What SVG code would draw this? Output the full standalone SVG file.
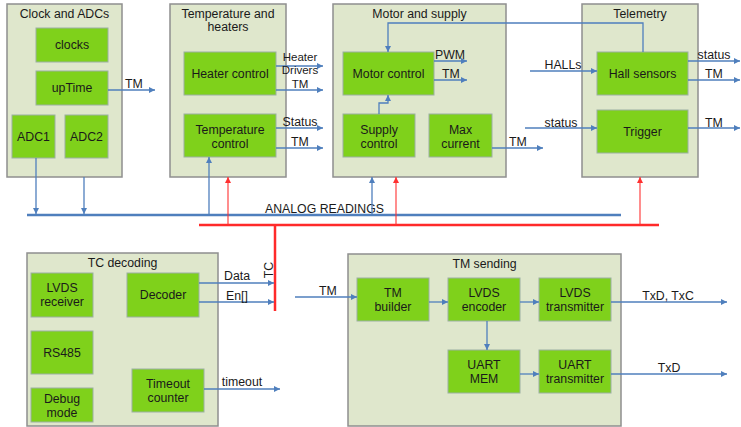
<svg xmlns="http://www.w3.org/2000/svg" width="741" height="427" viewBox="0 0 741 427">
<style>
.cont{fill:#dfe7cc;stroke:#8f8f8f;stroke-width:1.5}
.box{fill:#7fd11b;stroke:#9bb0a2;stroke-width:1}
text{font-family:"Liberation Sans",Arial,sans-serif;font-size:12.3px;fill:#1a1a1a}
.c{text-anchor:middle}
.s{font-size:11.5px}
.lnb{fill:none;stroke:#4f7fbd;stroke-width:1.3;marker-end:url(#ab)}
.lnr{fill:none;stroke:#ff3030;stroke-width:1.1;marker-end:url(#ar)}
</style>
<defs>
<marker id="ab" markerUnits="userSpaceOnUse" markerWidth="7" markerHeight="7" refX="6" refY="3" orient="auto"><path d="M0,0 L6,3 L0,6 z" fill="#4f7fbd"/></marker>
<marker id="ar" markerUnits="userSpaceOnUse" markerWidth="7" markerHeight="7" refX="6" refY="3" orient="auto"><path d="M0,0 L6,3 L0,6 z" fill="#ff3030"/></marker>
</defs>
<rect width="741" height="427" fill="#ffffff"/>

<g id="clock-adcs">
<rect class="cont" x="7" y="4" width="115" height="173"/>
<text class="c" x="64.5" y="18">Clock and ADCs</text>
</g>
<g id="clocks"><rect class="box" x="36" y="28" width="72" height="34"/><text class="c" x="72" y="49">clocks</text></g>
<g id="uptime"><rect class="box" x="36" y="71" width="72" height="34"/><text class="c" x="72" y="92">upTime</text></g>
<g id="adc1"><rect class="box" x="12" y="115" width="43" height="43"/><text class="c" x="33.5" y="141">ADC1</text></g>
<g id="adc2"><rect class="box" x="65" y="115" width="43" height="43"/><text class="c" x="86.5" y="141">ADC2</text></g>

<g id="temp-heaters">
<rect class="cont" x="170" y="4" width="116" height="173"/>
<text class="c" x="228" y="18">Temperature and</text>
<text class="c" x="228" y="31">heaters</text>
</g>
<g id="heater-control"><rect class="box" x="184" y="52" width="92" height="43"/><text class="c" x="230" y="78">Heater control</text></g>
<g id="temperature-control"><rect class="box" x="184" y="114" width="92" height="43"/><text class="c" x="230" y="134">Temperature</text><text class="c" x="230" y="148">control</text></g>

<g id="motor-supply">
<rect class="cont" x="333" y="4" width="173" height="173"/>
<text class="c" x="419.5" y="18">Motor and supply</text>
</g>
<g id="motor-control"><rect class="box" x="343" y="52" width="91" height="43"/><text class="c" x="388.5" y="78">Motor control</text></g>
<g id="supply-control"><rect class="box" x="343" y="114" width="72" height="43"/><text class="c" x="379" y="134">Supply</text><text class="c" x="379" y="148">control</text></g>
<g id="max-current"><rect class="box" x="429" y="114" width="63" height="43"/><text class="c" x="460.5" y="134">Max</text><text class="c" x="460.5" y="148">current</text></g>

<g id="telemetry">
<rect class="cont" x="582" y="4" width="116" height="173"/>
<text class="c" x="640" y="18">Telemetry</text>
</g>
<g id="hall-sensors"><rect class="box" x="597" y="52" width="91" height="43"/><text class="c" x="642.5" y="78">Hall sensors</text></g>
<g id="trigger"><rect class="box" x="597" y="110" width="91" height="43"/><text class="c" x="642.5" y="136">Trigger</text></g>

<g id="tc-decoding">
<rect class="cont" x="27" y="253" width="191" height="173"/>
<text class="c" x="122.5" y="267">TC decoding</text>
</g>
<g id="lvds-receiver"><rect class="box" x="31" y="273" width="62" height="44"/><text class="c" x="62" y="292">LVDS</text><text class="c" x="62" y="306">receiver</text></g>
<g id="rs485"><rect class="box" x="31" y="331" width="62" height="43"/><text class="c" x="62" y="357">RS485</text></g>
<g id="debug-mode"><rect class="box" x="31" y="388" width="62" height="34"/><text class="c" x="62" y="403">Debug</text><text class="c" x="62" y="417">mode</text></g>
<g id="decoder"><rect class="box" x="127" y="273" width="72" height="44"/><text class="c" x="163" y="299">Decoder</text></g>
<g id="timeout-counter"><rect class="box" x="132" y="369" width="72" height="43"/><text class="c" x="168" y="388">Timeout</text><text class="c" x="168" y="402">counter</text></g>

<g id="tm-sending">
<rect class="cont" x="348" y="254" width="273" height="172"/>
<text class="c" x="484.5" y="268">TM sending</text>
</g>
<g id="tm-builder"><rect class="box" x="357" y="278" width="72" height="43"/><text class="c" x="393" y="297">TM</text><text class="c" x="393" y="311">builder</text></g>
<g id="lvds-encoder"><rect class="box" x="448" y="278" width="72" height="43"/><text class="c" x="484" y="297">LVDS</text><text class="c" x="484" y="311">encoder</text></g>
<g id="lvds-transmitter"><rect class="box" x="539" y="278" width="72" height="43"/><text class="c" x="575" y="297">LVDS</text><text class="c" x="575" y="311">transmitter</text></g>
<g id="uart-mem"><rect class="box" x="448" y="350" width="72" height="43"/><text class="c" x="484" y="369">UART</text><text class="c" x="484" y="383">MEM</text></g>
<g id="uart-transmitter"><rect class="box" x="539" y="350" width="72" height="43"/><text class="c" x="575" y="369">UART</text><text class="c" x="575" y="383">transmitter</text></g>

<g id="connectors">
<!-- buses -->
<line x1="27" y1="215" x2="621" y2="215" stroke="#4f7fbd" stroke-width="2.5"/>
<text x="265" y="213" font-size="12px">ANALOG READINGS</text>
<line x1="199" y1="225" x2="659" y2="225" stroke="#ff2a2a" stroke-width="2.5"/>
<line x1="275" y1="225" x2="275" y2="311" stroke="#ff2a2a" stroke-width="2.5"/>
<text transform="translate(273,270) rotate(-90)" class="c">TC</text>

<!-- clock & ADCs -->
<path class="lnb" d="M108,90 H155"/>
<text class="c" x="134" y="88">TM</text>
<path class="lnb" d="M36,158 V214"/>
<path class="lnb" d="M84,177 V214"/>

<!-- temperature -->
<path class="lnb" d="M276,66 H323"/>
<text class="c s" x="300" y="61">Heater</text>
<text class="c s" x="300" y="74">Drivers</text>
<path class="lnb" d="M276,90 H323"/>
<text class="c s" x="300" y="87.5">TM</text>
<path class="lnb" d="M276,128 H323"/>
<text class="c" x="300" y="126">Status</text>
<path class="lnb" d="M276,148 H323"/>
<text class="c" x="300" y="146">TM</text>
<path class="lnb" d="M209,214 V157"/>
<path class="lnr" d="M228,225 V177"/>

<!-- motor -->
<path class="lnb" d="M434,61 H467"/>
<text class="c" x="450" y="59">PWM</text>
<path class="lnb" d="M434,80 H467"/>
<text class="c" x="451" y="78">TM</text>
<path class="lnb" d="M379,114 V103 H388 V95"/>
<path class="lnb" d="M643,52 V23 H388 V52"/>
<path class="lnb" d="M492,148 H543"/>
<text class="c" x="518" y="146">TM</text>
<path class="lnb" d="M372,214 V177"/>
<path class="lnr" d="M396,225 V177"/>

<!-- telemetry -->
<path class="lnb" d="M530,71 H597"/>
<text class="c" x="563" y="69">HALLs</text>
<path class="lnb" d="M525,128 H597"/>
<text class="c" x="561" y="127">status</text>
<path class="lnb" d="M688,61 H740"/>
<text class="c" x="714" y="59">status</text>
<path class="lnb" d="M688,80 H740"/>
<text class="c" x="714" y="78">TM</text>
<path class="lnb" d="M688,128 H740"/>
<text class="c" x="714" y="127">TM</text>
<path class="lnr" d="M640,225 V177"/>

<!-- TC decoding -->
<path class="lnb" d="M199,283 H274"/>
<text class="c" x="237" y="280">Data</text>
<path class="lnb" d="M199,302 H274"/>
<text class="c" x="237" y="300">En[]</text>
<path class="lnb" d="M204,389 H280"/>
<text class="c" x="242" y="386">timeout</text>

<!-- TM sending -->
<path class="lnb" d="M295,297 H357"/>
<text class="c" x="328" y="295">TM</text>
<path class="lnb" d="M429,302 H448"/>
<path class="lnb" d="M520,302 H539"/>
<path class="lnb" d="M487,321 V350"/>
<path class="lnb" d="M520,374 H539"/>
<path class="lnb" d="M611,302 H727"/>
<text class="c" x="668" y="300">TxD, TxC</text>
<path class="lnb" d="M611,374 H727"/>
<text class="c" x="669" y="372">TxD</text>
</g>
</svg>
